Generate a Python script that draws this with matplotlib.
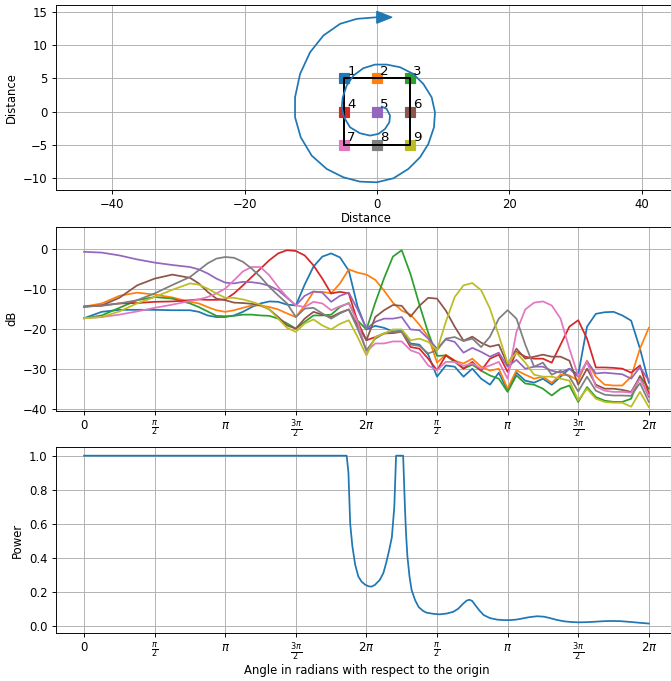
import numpy as np
import matplotlib
matplotlib.use("Agg")
import matplotlib.pyplot as plt


# source path around the array (top panel)
SPIRAL_X = [0.71, 1.46, 1.96, 1.86, 1.21, 0.20, -1.06, -2.57, -4.08, -4.98,
            -5.33, -5.18, -4.58, -3.57, -2.07, -0.30, 1.46, 3.47, 5.48, 6.99,
            8.25, 8.75, 8.60, 7.75, 6.49, 4.73, 2.47, -0.05, -2.57, -5.08,
            -7.60, -9.86, -11.52, -12.38, -12.38, -11.62, -10.11, -8.10, -5.58, -3.06,
            -0.05]
SPIRAL_Y = [0.75, 0.40, -0.60, -1.61, -2.61, -3.36, -3.61, -3.26, -2.36, -0.85,
            0.65, 2.15, 3.92, 5.42, 6.53, 7.08, 7.08, 6.68, 5.67, 4.17,
            2.15, -0.10, -2.36, -4.87, -6.88, -8.63, -10.04, -10.64, -10.54, -9.89,
            -8.63, -6.63, -3.87, -0.85, 2.15, 5.67, 8.93, 11.45, 13.21, 13.96,
            14.20]

MIC_X = [-5, 0, 5, -5, 0, 5, -5, 0, 5]
MIC_Y = [5, 5, 5, 0, 0, 0, -5, -5, -5]
MIC_NAMES = ["1", "2", "3", "4", "5", "6", "7", "8", "9"]

# sample angles in units of pi/2
ANGLE_STEPS = [0, 0.25, 0.5, 0.75, 1.0, 1.25, 1.5,
               1.625, 1.75, 1.875, 2.0, 2.125, 2.25, 2.375, 2.5, 2.625, 2.75, 2.875, 3.0,
               3.125, 3.25, 3.375, 3.5, 3.625, 3.75, 3.875,
               4.0, 4.125, 4.25, 4.375, 4.5, 4.625, 4.75, 4.875,
               5.0, 5.125, 5.25, 5.375, 5.5, 5.625, 5.75, 5.875,
               6.0, 6.125, 6.25, 6.375, 6.5, 6.625, 6.75, 6.875,
               7.0, 7.125, 7.25, 7.375, 7.5, 7.625, 7.75, 7.875, 8.0]

DB_MIC1 = [-17.4, -15.8, -15.3, -15.3, -15.3, -15.4, -15.4,
           -15.8, -16.7, -17.1, -17.1, -16.7, -15.8, -14.6, -13.7, -13.2, -13.3, -14.0, -14.2,
           -9.0, -4.5, -2.0, -1.2, -2.2, -5.5, -14.5,
           -20.2, -19.3, -19.8, -20.7, -20.5, -23.7, -24.0, -26.5,
           -32.0, -29.2, -29.5, -32.0, -30.0, -32.5, -34.0, -31.0,
           -35.5, -31.0, -33.0, -33.5, -32.5, -34.0, -32.0, -30.0,
           -31.5, -19.5, -16.3, -15.9, -15.8, -16.7, -18.0, -25.0, -33.5]
DB_MIC2 = [-14.5, -13.7, -11.8, -11.0, -11.5, -12.2, -13.3,
           -13.7, -14.6, -15.4, -15.8, -15.4, -14.8, -14.2, -14.2, -14.6, -15.2, -16.2, -17.1,
           -14.2, -10.8, -10.8, -11.2, -8.7, -5.2, -6.0,
           -6.5, -7.8, -10.5, -13.5, -15.5, -16.5, -19.0, -22.0,
           -28.5, -26.5, -28.0, -28.7, -27.5, -29.5, -30.5, -30.0,
           -35.0, -30.4, -31.5, -32.5, -32.0, -33.5, -31.5, -31.7,
           -33.0, -28.0, -32.0, -34.0, -34.2, -34.2, -32.0, -25.0, -19.8]
DB_MIC3 = [-17.4, -16.7, -14.8, -12.9, -12.1, -12.5, -13.7,
           -14.6, -15.7, -16.8, -16.9, -16.8, -16.5, -16.5, -16.7, -16.8, -17.5, -18.7, -20.0,
           -18.3, -16.7, -16.7, -16.5, -14.6, -13.6, -18.0,
           -20.2, -13.5, -7.4, -2.0, -0.4, -6.4, -14.0, -21.0,
           -26.8, -26.7, -28.3, -30.0, -29.0, -30.5, -31.7, -32.5,
           -35.8, -31.7, -33.7, -34.0, -35.0, -36.7, -35.0, -34.2,
           -38.3, -34.6, -37.1, -38.0, -38.3, -38.3, -37.5, -31.8, -35.0]
DB_MIC4 = [-14.5, -14.2, -13.7, -13.6, -13.3, -13.2, -12.9,
           -12.7, -12.8, -12.8, -12.7, -11.2, -9.2, -7.1, -5.0, -2.9, -1.2, -0.4, -0.6,
           -1.7, -4.2, -7.5, -11.2, -10.8, -11.2, -18.3,
           -22.9, -22.1, -21.2, -21.1, -20.8, -24.6, -25.0, -27.5,
           -30.4, -26.7, -28.0, -30.0, -28.3, -30.5, -27.5, -26.5,
           -30.8, -25.8, -27.0, -27.5, -27.5, -28.5, -24.0, -19.5,
           -17.9, -22.5, -29.7, -29.7, -29.8, -30.0, -31.0, -29.2, -36.2]
DB_MIC5 = [-0.8, -1.0, -1.7, -2.7, -3.5, -4.1, -4.6,
           -5.2, -6.2, -7.5, -8.5, -8.7, -8.3, -8.4, -8.7, -9.3, -10.4, -12.3, -14.2,
           -11.8, -10.7, -11.0, -13.3, -11.8, -11.0, -15.2,
           -20.0, -18.3, -17.5, -17.5, -17.1, -20.2, -20.4, -22.5,
           -25.0, -22.7, -23.3, -26.0, -24.8, -25.8, -27.0, -26.0,
           -29.5, -27.8, -30.0, -29.5, -29.5, -30.5, -31.0, -30.0,
           -32.0, -28.2, -31.2, -31.0, -31.2, -31.4, -32.5, -29.6, -33.0]
DB_MIC6 = [-14.5, -14.2, -12.3, -9.2, -7.5, -6.5, -7.3,
           -8.7, -10.8, -12.5, -12.9, -13.5, -13.6, -13.8, -14.2, -15.2, -17.1, -19.2, -20.0,
           -17.5, -15.8, -16.5, -17.1, -16.0, -15.2, -19.2,
           -22.9, -17.1, -15.4, -14.1, -14.3, -17.0, -14.3, -12.3,
           -12.5, -15.5, -19.5, -23.0, -22.0, -23.5, -24.5, -24.0,
           -29.0, -25.0, -27.5, -27.0, -26.5, -27.0, -27.0, -28.0,
           -34.0, -30.0, -34.0, -35.0, -35.0, -35.3, -35.8, -32.0, -37.0]
DB_MIC7 = [-17.4, -17.1, -16.5, -15.7, -14.8, -14.0, -13.1,
           -12.7, -12.1, -11.2, -10.0, -7.9, -5.7, -4.6, -4.6, -6.7, -9.6, -12.1, -14.2,
           -14.6, -13.3, -13.7, -15.4, -14.4, -13.7, -18.3,
           -25.8, -23.7, -23.7, -23.2, -23.2, -25.4, -26.2, -29.2,
           -30.4, -28.3, -28.3, -29.3, -28.7, -30.0, -29.2, -28.3,
           -32.5, -20.8, -15.2, -13.5, -13.2, -14.2, -17.5, -25.0,
           -31.8, -28.3, -34.5, -35.5, -35.8, -35.8, -36.0, -32.5, -36.7]
DB_MIC8 = [-14.5, -14.3, -13.7, -12.9, -11.2, -9.1, -7.1,
           -5.4, -3.7, -2.5, -2.1, -2.3, -3.3, -5.0, -7.1, -9.6, -11.7, -13.7, -17.1,
           -15.0, -14.8, -16.2, -17.5, -16.2, -15.2, -20.0,
           -25.4, -22.5, -21.2, -20.8, -20.8, -24.0, -24.3, -26.2,
           -25.4, -22.5, -22.1, -23.1, -22.5, -24.6, -22.0, -17.5,
           -15.4, -17.5, -24.0, -29.5, -28.5, -31.5, -30.5, -32.0,
           -35.7, -32.0, -35.5, -36.5, -36.7, -36.7, -36.8, -33.6, -38.3]
DB_MIC9 = [-17.4, -17.1, -15.7, -13.7, -12.1, -10.3, -8.7,
           -9.0, -10.0, -11.2, -12.3, -12.3, -12.7, -13.3, -14.0, -15.2, -17.5, -19.8, -20.8,
           -18.7, -17.7, -19.2, -20.2, -18.8, -17.9, -22.1,
           -26.7, -22.1, -21.2, -20.2, -20.2, -22.9, -22.5, -23.3,
           -25.4, -18.3, -12.1, -9.2, -8.6, -10.4, -15.0, -21.7,
           -28.7, -26.0, -28.5, -31.5, -32.0, -32.0, -32.5, -33.0,
           -37.9, -35.0, -37.5, -38.3, -38.5, -38.5, -39.5, -35.8, -39.6]

# beam power, angle again in units of pi/2
POWER_STEPS = [0, 3.72, 3.745, 3.77, 3.8, 3.84, 3.885, 3.93, 3.98, 4.03,
               4.07, 4.12, 4.19, 4.24, 4.28, 4.32, 4.36, 4.395, 4.42, 4.52,
               4.545, 4.56, 4.58, 4.61, 4.64, 4.69, 4.74, 4.8, 4.85, 4.95,
               5.04, 5.14, 5.23, 5.3, 5.37, 5.42, 5.46, 5.5, 5.54, 5.6,
               5.66, 5.75, 5.85, 5.95, 6.03, 6.12, 6.2, 6.3, 6.42, 6.52,
               6.6, 6.7, 6.8, 6.9, 7.0, 7.12, 7.25, 7.37, 7.48, 7.6,
               7.75, 7.88, 8.0]
POWER = [1.0, 1.0, 0.9, 0.6, 0.47, 0.36, 0.29, 0.26, 0.242, 0.232,
         0.23, 0.24, 0.27, 0.31, 0.37, 0.44, 0.52, 0.70, 1.0, 1.0,
         0.70, 0.55, 0.41, 0.29, 0.21, 0.15, 0.11, 0.088, 0.077, 0.07,
         0.067, 0.072, 0.082, 0.1, 0.13, 0.148, 0.153, 0.145, 0.122, 0.09,
         0.063, 0.045, 0.036, 0.033, 0.033, 0.036, 0.042, 0.05, 0.056, 0.053,
         0.045, 0.034, 0.026, 0.022, 0.02, 0.021, 0.024, 0.027, 0.028, 0.027,
         0.022, 0.017, 0.013]

TICK_LABELS = ["0", r"$\frac{\pi}{2}$", r"$\pi$", r"$\frac{3\pi}{2}$", r"$2\pi$",
               r"$\frac{\pi}{2}$", r"$\pi$", r"$\frac{3\pi}{2}$", r"$2\pi$"]

DB_LEVELS = [DB_MIC1, DB_MIC2, DB_MIC3, DB_MIC4, DB_MIC5,
             DB_MIC6, DB_MIC7, DB_MIC8, DB_MIC9]

DPI = 84


def draw_layout(ax):
    # mics first, box and path on top of them
    for i, (x, y) in enumerate(zip(MIC_X, MIC_Y)):
        ax.plot(x, y, "s", color=f"C{i}", markersize=8, zorder=2)
        ax.text(x + 0.5, y + 0.5, MIC_NAMES[i], fontsize=11.5)

    x0, x1 = min(MIC_X), max(MIC_X)
    y0, y1 = min(MIC_Y), max(MIC_Y)
    ax.plot([x0, x1, x1, x0, x0], [y0, y0, y1, y1, y0], color="k",
            linewidth=1.7, zorder=3)

    ax.plot(SPIRAL_X, SPIRAL_Y, color="C0", zorder=4)
    ax.arrow(SPIRAL_X[-1], SPIRAL_Y[-1], 0.01, 0, width=0.01,
             head_width=1.8, head_length=2.3, color="C0", zorder=4)

    ax.set_xlim(-48.5, 45.3)
    ax.set_ylim(-11.8, 16.05)
    ax.set_xticks([-40, -20, 0, 20, 40])
    ax.set_xlabel("Distance", labelpad=1)
    ax.set_ylabel("Distance")
    ax.grid(True)


def set_angle_axis(ax):
    ax.set_xticks(np.arange(9) * np.pi / 2)
    ax.set_xticklabels(TICK_LABELS)
    ax.set_xlim(-0.2 * np.pi, 4.2 * np.pi)
    ax.grid(True)


fig = plt.figure(figsize=(671 / DPI, 681 / DPI), dpi=DPI)
ax_top = fig.add_axes([0.0832, 0.7210, 0.9258, 0.2717])
ax_mid = fig.add_axes([0.0832, 0.3972, 0.9258, 0.2695])
ax_bot = fig.add_axes([0.0832, 0.0709, 0.9258, 0.2722])

draw_layout(ax_top)

angle = np.array(ANGLE_STEPS) * np.pi / 2
for i, db in enumerate(DB_LEVELS):
    ax_mid.plot(angle, db, color=f"C{i}")
ax_mid.set_ylabel("dB")
ax_mid.set_ylim(-40.45, 5.4)
set_angle_axis(ax_mid)

ax_bot.plot(np.array(POWER_STEPS) * np.pi / 2, POWER, color="C0")
ax_bot.set_ylabel("Power")
ax_bot.set_xlabel("Angle in radians with respect to the origin", labelpad=1)
ax_bot.set_ylim(-0.041, 1.049)
set_angle_axis(ax_bot)

fig.savefig("out.png", dpi=DPI)
plt.close(fig)
